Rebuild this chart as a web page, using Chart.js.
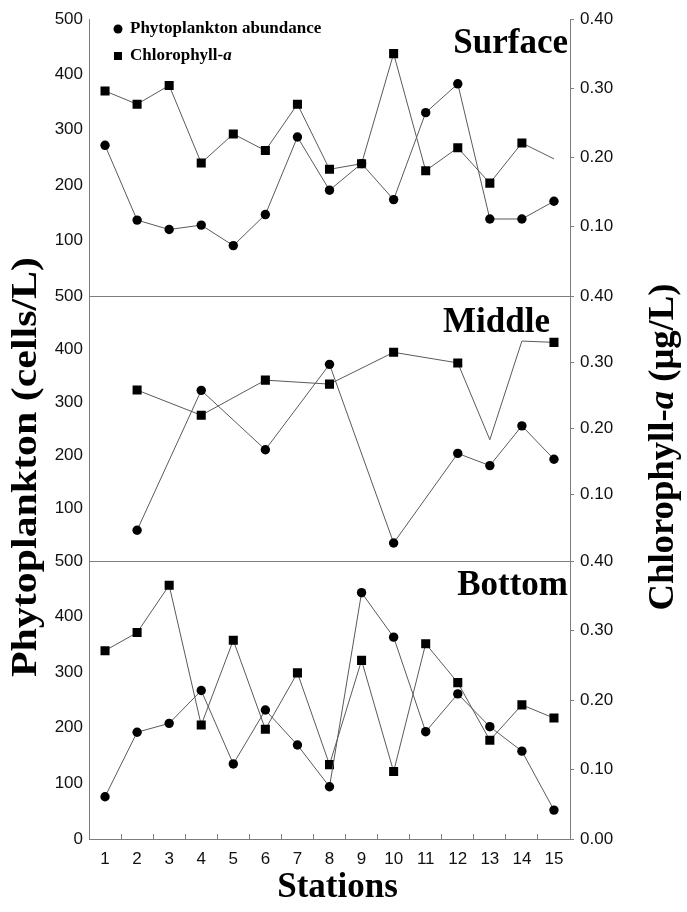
<!DOCTYPE html>
<html>
<head>
<meta charset="utf-8">
<script src="https://cdn.jsdelivr.net/npm/chart.js@4.4.0/dist/chart.umd.min.js"></script>
<style>
  html, body { margin: 0; padding: 0; background: #ffffff; }
  #wrap { width: 687px; height: 912px; position: relative; }
</style>
</head>
<body>
<div id="wrap"><canvas id="c" width="687" height="912"></canvas></div>
<script>
// Sampling stations along the x axis
const stations = ['1', '2', '3', '4', '5', '6', '7', '8', '9', '10', '11', '12', '13', '14', '15'];

// Phytoplankton abundance (cells/L) and chlorophyll-a (µg/L) per depth layer
const surfacePhyto = [272, 137, 120, 128, 91, 147, 287, 191, 239, 174, 331, 383, 139, 139, 171];
const surfaceChl   = [0.296, 0.277, 0.304, 0.192, 0.234, 0.210, 0.277, 0.183, 0.191, 0.350, 0.181, 0.214, 0.163, 0.221, 0.198];
const middlePhyto  = [null, 58, null, 322, null, 210, null, 371, null, 34, null, 203, 180, 255, 192];
const middleChl    = [null, 0.258, null, 0.220, null, 0.273, null, 0.267, null, 0.315, null, 0.299, 0.183, 0.332, 0.330];
const bottomPhyto  = [76, 192, 208, 267, 135, 232, 169, 94, 443, 363, 193, 261, 202, 158, 52];
const bottomChl    = [0.271, 0.297, 0.365, 0.164, 0.286, 0.158, 0.239, 0.107, 0.257, 0.097, 0.281, 0.225, 0.142, 0.193, 0.174];

// Stations where the chlorophyll line passes through without a marker
const unmarkedSurfaceChl = ['15'];
const unmarkedMiddleChl = ['13', '14'];

// Axis tick values
const phytoTicks = [0, 100, 200, 300, 400, 500];
const chlTicks = [0, 0.1, 0.2, 0.3, 0.4];

const panelNames = ['Surface', 'Middle', 'Bottom'];
const legendPhyto = 'Phytoplankton abundance';
const leftTitle = 'Phytoplankton (cells/L)';
const xTitle = 'Stations';

const AXIS = '#7d7d7d';
const LINE = '#5a5a5a';
const TICK_FONT = { family: '"Liberation Sans", Arial, sans-serif', size: 17 };
const SERIF = '"Liberation Serif", "Times New Roman", serif';

// relative heights of the three stacked panels (top to bottom)
const panelHeights = [277, 265, 278];

function leftAxis(panel) {
  return {
    type: 'linear',
    position: 'left',
    stack: 'depth',
    stackWeight: panelHeights[panel],
    weight: 3 - panel,
    min: 0,
    max: 500,
    afterBuildTicks: s => { s.ticks = phytoTicks.map(v => ({ value: v })); },
    ticks: {
      color: '#111',
      font: TICK_FONT,
      padding: 6,
      callback: v => (panel < 2 && v === 0) ? '' : String(v)
    },
    grid: {
      drawTicks: false,
      lineWidth: 1,
      color: ctx => (panel > 0 && ctx.tick && ctx.tick.value === 500) ? AXIS : 'rgba(0,0,0,0)'
    },
    border: { display: true, color: AXIS, width: 1 },
    afterFit: s => { s.width = 89; }
  };
}

function rightAxis(panel) {
  return {
    type: 'linear',
    position: 'right',
    stack: 'depth',
    stackWeight: panelHeights[panel],
    weight: panel + 1,
    min: 0,
    max: 0.4,
    afterBuildTicks: s => { s.ticks = chlTicks.map(v => ({ value: v })); },
    ticks: {
      color: '#111',
      font: TICK_FONT,
      padding: 6,
      callback: v => (panel < 2 && v === 0) ? '' : Number(v).toFixed(2)
    },
    grid: {
      drawOnChartArea: false,
      drawTicks: true,
      tickLength: 4,
      tickColor: AXIS
    },
    border: { display: true, color: AXIS, width: 1 },
    afterFit: s => { s.width = 117; }
  };
}

function markerRadius(base, unmarked) {
  return ctx => unmarked.includes(stations[ctx.dataIndex]) ? 0 : base;
}

function phytoSet(label, data, axis) {
  return {
    label, data, yAxisID: axis, xAxisID: 'x',
    borderColor: LINE, borderWidth: 1,
    pointStyle: 'circle', pointRadius: 4.7,
    pointBackgroundColor: '#000', pointBorderColor: '#000', pointBorderWidth: 0,
    spanGaps: true, tension: 0
  };
}

function chlSet(label, data, axis, unmarked) {
  return {
    label, data, yAxisID: axis, xAxisID: 'x',
    borderColor: LINE, borderWidth: 1,
    pointStyle: 'rect', pointRadius: markerRadius(6.4, unmarked),
    pointBackgroundColor: '#000', pointBorderColor: '#000', pointBorderWidth: 0,
    spanGaps: true, tension: 0
  };
}

// Draws a run of bold serif text, optionally with italic pieces, stretched to a width
function drawRich(ctx, parts, size, cx, cy, opts) {
  ctx.save();
  ctx.translate(cx, cy);
  if (opts.rotate) ctx.rotate(opts.rotate);
  const fontOf = p => `${p.italic ? 'italic ' : ''}bold ${size}px ${SERIF}`;
  const widths = parts.map(p => { ctx.font = fontOf(p); return ctx.measureText(p.text).width; });
  const total = widths.reduce((a, b) => a + b, 0);
  const sx = opts.fitWidth ? opts.fitWidth / total : 1;
  ctx.scale(sx, 1);
  let x = opts.align === 'left' ? 0 : opts.align === 'right' ? -total : -total / 2;
  ctx.textAlign = 'left';
  ctx.textBaseline = opts.baseline || 'middle';
  ctx.fillStyle = '#000';
  parts.forEach((p, i) => { ctx.font = fontOf(p); ctx.fillText(p.text, x, 0); x += widths[i]; });
  ctx.restore();
}

const textLayer = {
  id: 'textLayer',
  afterDraw(chart) {
    const ctx = chart.ctx;
    const area = chart.chartArea;
    const sc = chart.scales;

    // axis titles
    drawRich(ctx, [{ text: leftTitle }], 36, 27, 467, { rotate: -Math.PI / 2, fitWidth: 420 });
    drawRich(ctx, [{ text: 'Chlorophyll-' }, { text: 'a', italic: true }, { text: ' (\u03bcg/L)' }],
      36, 664, 447, { rotate: -Math.PI / 2, fitWidth: 327 });
    drawRich(ctx, [{ text: xTitle }], 35, (area.left + area.right) / 2 + 8, 888, {});

    // panel names
    const ids = ['yS', 'yM', 'yB'];
    const insetRight = [2, 20, 2];
    const baseDrop = [34, 36, 34];
    ids.forEach((id, i) => {
      drawRich(ctx, [{ text: panelNames[i] }], 35, area.right - insetRight[i], sc[id].top + baseDrop[i],
        { align: 'right', baseline: 'alphabetic' });
    });

    // legend
    const lx = area.left + 29;
    const ly = [area.top + 10, area.top + 37];
    ctx.save();
    ctx.fillStyle = '#000';
    ctx.beginPath();
    ctx.arc(lx, ly[0], 4.5, 0, Math.PI * 2);
    ctx.fill();
    ctx.fillRect(lx - 4, ly[1] - 4, 8, 8);
    ctx.restore();
    drawRich(ctx, [{ text: legendPhyto }], 17, lx + 12, ly[0], { align: 'left' });
    drawRich(ctx, [{ text: 'Chlorophyll-' }, { text: 'a', italic: true }], 17, lx + 12, ly[1], { align: 'left' });
  }
};

new Chart(document.getElementById('c'), {
  type: 'line',
  data: {
    labels: stations,
    datasets: [
      phytoSet('Phytoplankton abundance (surface)', surfacePhyto, 'yS'),
      chlSet('Chlorophyll-a (surface)', surfaceChl, 'cS', unmarkedSurfaceChl),
      phytoSet('Phytoplankton abundance (middle)', middlePhyto, 'yM'),
      chlSet('Chlorophyll-a (middle)', middleChl, 'cM', unmarkedMiddleChl),
      phytoSet('Phytoplankton abundance (bottom)', bottomPhyto, 'yB'),
      chlSet('Chlorophyll-a (bottom)', bottomChl, 'cB', [])
    ]
  },
  options: {
    responsive: false,
    animation: false,
    devicePixelRatio: 1,
    layout: { padding: { top: 19, left: 0, right: 0, bottom: 0 } },
    plugins: { legend: { display: false }, tooltip: { enabled: false } },
    scales: {
      x: {
        type: 'category',
        position: 'bottom',
        offset: true,
        grid: { offset: true, drawOnChartArea: false, drawTicks: true, tickLength: -5, tickColor: AXIS },
        border: { display: true, color: AXIS, width: 1 },
        ticks: { color: '#111', font: TICK_FONT, padding: 15, autoSkip: false, maxRotation: 0 },
        afterFit: s => { s.height = 73; }
      },
      yS: leftAxis(0),
      yM: leftAxis(1),
      yB: leftAxis(2),
      cS: rightAxis(0),
      cM: rightAxis(1),
      cB: rightAxis(2)
    }
  },
  plugins: [textLayer]
});
</script>
</body>
</html>
